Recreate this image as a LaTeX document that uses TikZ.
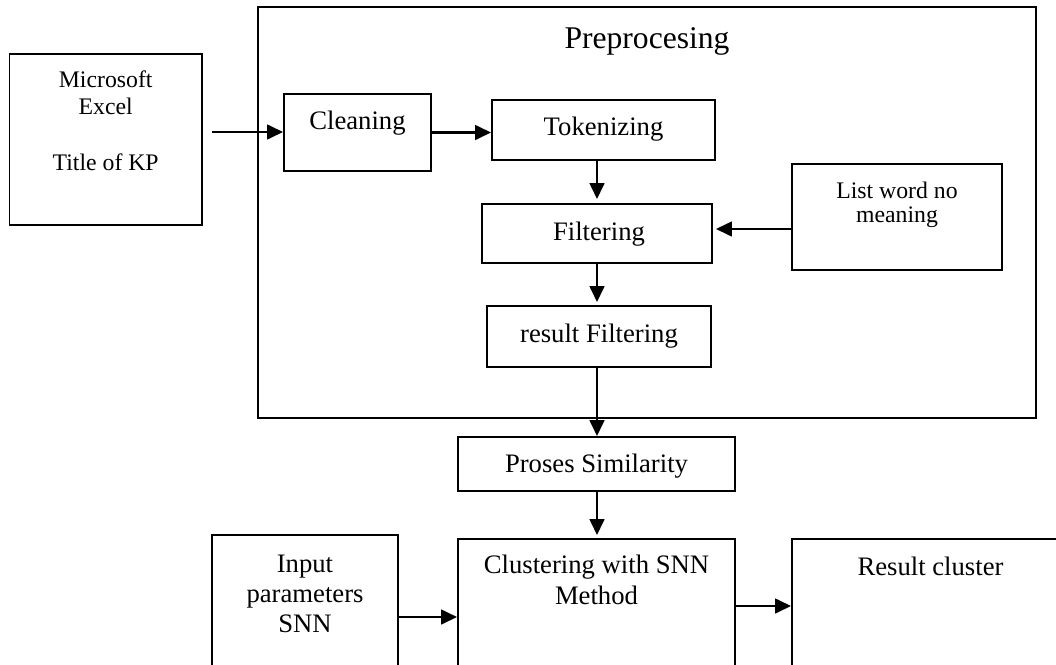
\documentclass[tikz,border=0pt]{standalone}
\usepackage{fontspec}
\setmainfont{Liberation Serif}
\usetikzlibrary{arrows.meta,fit}
\begin{document}
\begin{tikzpicture}[x=0.75pt,y=-0.75pt,
  box/.style={draw=black, line width=1.4pt, inner sep=0pt},
  lbl/.style={inner sep=0pt, anchor=base, font=\fontsize{20}{22}\selectfont},
  small/.style={lbl, font=\fontsize{17.8}{20}\selectfont},
  flow/.style={line width=1.9pt, -{Triangle[length=12pt,width=11pt]}}]
\useasboundingbox (0,0) rectangle (1056,664);
\clip (0,0) rectangle (1056,664);

% boxes
\node[box, fit={(9.5,54) (202,225)}] (excel) {};
\node[box, fit={(258,7) (1036,418)}] (pre) {};
\node[box, fit={(284,94) (431,171)}] (clean) {};
\node[box, fit={(492,100) (715,160)}] (tok) {};
\node[box, fit={(482,204) (712,263)}] (filt) {};
\node[box, fit={(792,164) (1002,270)}] (list) {};
\node[box, fit={(487,306) (711,367)}] (res) {};
\node[box, fit={(458,437) (735,491)}] (sim) {};
\node[box, fit={(212,535) (398,700)}] (inp) {};
\node[box, fit={(458,539) (735,700)}] (clu) {};
\node[box, fit={(792,539) (1069,700)}] (rcl) {};

% texts
\node[lbl, font=\fontsize{23.7}{26}\selectfont] (tpre) at (647,48) {Preprocesing};
\node[small] (tex1) at (105.7,87) {Microsoft};
\node[small] (tex2) at (105.7,114) {Excel};
\node[small] (tex3) at (105.7,170) {Title of KP};
\node[lbl] (tcl) at (357.5,129) {Cleaning};
\node[lbl] (ttok) at (603.5,135) {Tokenizing};
\node[lbl] (tfilt) at (599,240) {Filtering};
\node[small] (tl1) at (897,198) {List word no};
\node[small] (tl2) at (897,222) {meaning};
\node[lbl] (tres) at (599,342) {result Filtering};
\node[lbl] (tsim) at (596.5,472) {Proses Similarity};
\node[lbl] (ti1) at (305,572) {Input};
\node[lbl] (ti2) at (305,602) {parameters};
\node[lbl] (ti3) at (305,632) {SNN};
\node[lbl] (tc1) at (596.5,573) {Clustering with SNN};
\node[lbl] (tc2) at (596.5,604) {Method};
\node[lbl] (trc) at (930.5,575) {Result cluster};

% connectors
\coordinate (a0) at (212,132);
\coordinate (c1) at (597,0);
\coordinate (c2) at (0,229);
\coordinate (c3) at (0,617);
\coordinate (c4) at (0,606);
\draw[flow] (a0) -- (a0 -| clean.west);
\draw[flow] (clean.east) -- (clean.east -| tok.west);
\draw[flow, shorten >=3pt] (c1 |- tok.south) -- (c1 |- filt.north);
\draw[flow, shorten >=2.25pt] (c2 -| list.west) -- (c2 -| filt.east);
\draw[flow, shorten >=2.25pt] (c1 |- filt.south) -- (c1 |- res.north);
\draw[flow] (c1 |- res.south) -- (c1 |- sim.north);
\draw[flow, shorten >=2.25pt] (c1 |- sim.south) -- (c1 |- clu.north);
\draw[flow] (c3 -| inp.east) -- (c3 -| clu.west);
\draw[flow] (c4 -| clu.east) -- (c4 -| rcl.west);
\end{tikzpicture}
\end{document}
